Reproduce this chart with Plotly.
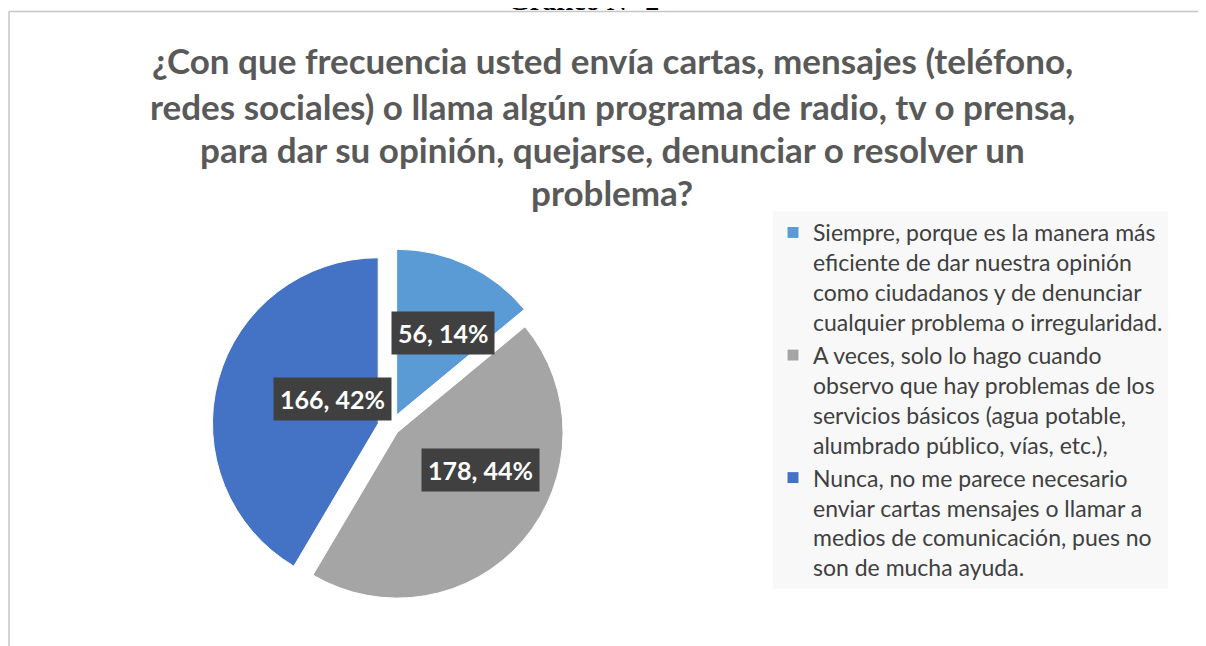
import math
import plotly.graph_objects as go

W, H = 1206, 646
OFF = 8  # page body margin in the browser


def fx(px):
    return (px - OFF) / W


def fy(py):
    return 1 - (py - OFF) / H


# ---- data ----
labels = [
    "Siempre, porque es la manera más<br>eficiente de dar nuestra opinión<br>como ciudadanos y de denunciar<br>cualquier problema o irregularidad.",
    "A veces, solo lo hago cuando<br>observo que hay problemas de los<br>servicios básicos (agua potable,<br>alumbrado público, vías, etc.),",
    "Nunca, no me parece necesario<br>enviar cartas mensajes o llamar a<br>medios de comunicación, pues no<br>son de mucha ayuda.",
]
values = [56, 178, 166]
colors = ["#5B9BD5", "#A5A5A5", "#4472C4"]
pulls = [0.08, 0.05, 0.08]

title_lines = [
    "¿Con que frecuencia usted envía cartas, mensajes (teléfono,",
    "redes sociales) o llama algún programa de radio, tv o prensa,",
    "para dar su opinión, quejarse, denunciar o resolver un",
    "problema?",
]
header = "Gráfico N° 2"

# ---- pie domain (window pixels) ----
px0, px1 = 170, 612
py0, py1 = 248, 606
dom_x = [fx(px0), fx(px1)]
dom_y = [fy(py1), fy(py0)]

fig = go.Figure()
fig.add_trace(go.Pie(
    labels=labels,
    values=values,
    marker=dict(colors=colors, line=dict(color="white", width=1)),
    pull=pulls,
    sort=False,
    direction="clockwise",
    rotation=0,
    textinfo="none",
    hoverinfo="label+value+percent",
    domain=dict(x=dom_x, y=dom_y),
))

# ---- data labels (positions derived from values) ----
total = sum(values)
cx = (px0 + px1) / 2
cy = (py0 + py1) / 2
r = min(px1 - px0, py1 - py0) / (2 * (1 + max(pulls)))
cum = 0
for v, p in zip(values, pulls):
    mid = (cum + v / 2) / total * 2 * math.pi
    cum += v
    d = (p + 0.66) * r
    x = cx + d * math.sin(mid)
    y = cy - 0.85 * d * math.cos(mid)
    fig.add_annotation(
        x=fx(x), y=fy(y), xref="paper", yref="paper",
        text=f"<b>{v}, {round(v / total * 100)}%</b>",
        showarrow=False,
        font=dict(family="Lato", size=25, color="white"),
        bgcolor="#404040", borderpad=6,
    )

# ---- title lines ----
ys = [60, 106, 149, 192]
for t, yy in zip(title_lines, ys):
    fig.add_annotation(
        x=fx(612), y=fy(yy), xref="paper", yref="paper",
        text=f"<b>{t}</b>", showarrow=False,
        font=dict(family="Lato", size=35, color="#595959"),
        xanchor="center", yanchor="middle",
    )

# header partially cut at top
fig.add_annotation(
    x=fx(583), y=fy(18), xref="paper", yref="paper",
    text=f"<b>{header}</b>", showarrow=False,
    font=dict(family="Liberation Serif", size=28, color="black"),
    xanchor="center", yanchor="bottom",
)

# chart border
fig.add_shape(type="line", xref="paper", yref="paper",
              x0=fx(9), x1=1, y0=fy(11.5), y1=fy(11.5),
              line=dict(color="#c6c6c6", width=1.5))
fig.add_shape(type="line", xref="paper", yref="paper",
              x0=fx(9), x1=fx(9), y0=fy(11.5), y1=0,
              line=dict(color="#c6c6c6", width=1.5))

fig.update_layout(
    width=W, height=H,
    margin=dict(l=0, r=0, t=0, b=0),
    paper_bgcolor="white",
    plot_bgcolor="white",
    showlegend=True,
    legend=dict(
        x=fx(773), y=fy(211), xanchor="left", yanchor="top",
        bgcolor="#f8f8f8",
        font=dict(family="Lato", size=23, color="#404040"),
        valign="top",
    ),
)

fig.write_html("out.html")
